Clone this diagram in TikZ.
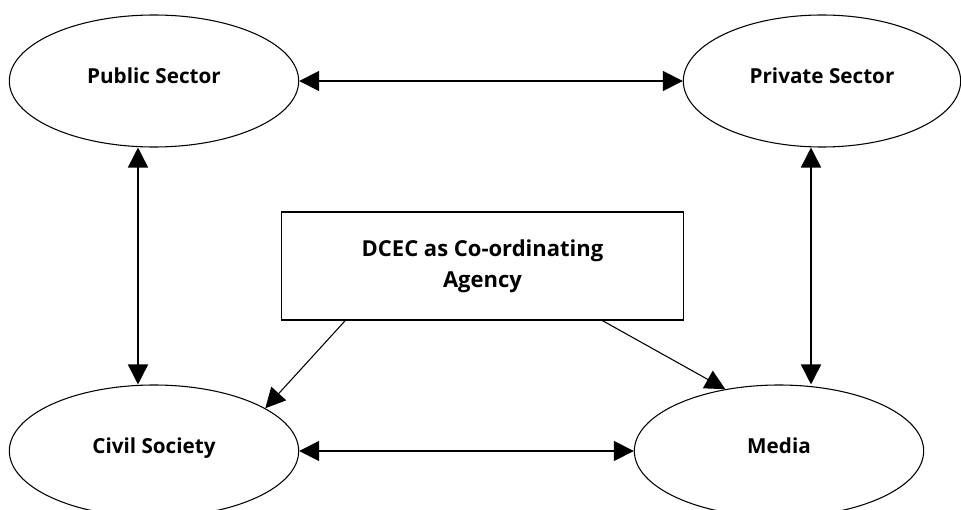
\documentclass[tikz,border=0pt]{standalone}
\usepackage{fontspec}
\setmainfont{Open Sans}
\usepackage{tikz}
\usetikzlibrary{positioning, calc, arrows.meta, shapes}
\tikzset{sector/.style={draw, ellipse, line width=0.8pt, minimum width=217pt, minimum height=99pt, inner sep=0pt, text height=10.5pt, text depth=7pt, font=\bfseries\fontsize{15.5}{18}\selectfont}}
\tikzset{agency/.style={draw, rectangle, line width=0.8pt, minimum width=301pt, minimum height=81pt, align=center, font=\bfseries\fontsize{16.5}{23}\selectfont}}
\tikzset{link/.style={line width=1.2pt, {Triangle[length=15pt,width=15pt]}-{Triangle[length=15pt,width=15pt]}}}
\tikzset{feed/.style={line width=0.8pt, -{Triangle[length=15pt,width=15pt]}}}

\begin{document}
\begin{tikzpicture}[x=0.75pt, y=-0.75pt]

      \useasboundingbox (0,0) rectangle (961,510);

      % SECTORS AND AGENCY

      \node[sector] (pubSec) at (154,81) {Public Sector};
      \node[sector, minimum width=208pt] (prvSec) at (822,81) {Private Sector};
      \node[sector] (civSoc) at (154,451) {Civil Society};
      \node[sector] (media) at (779,451) {Media};
      \node[agency] (dcec) at (482.5,266) {DCEC as Co-ordinating\\Agency};

      % ARC ENDS

      \coordinate (pubFoot) at ($(pubSec.south)+(-16,0)$);
      \coordinate (prvFoot) at ($(prvSec.south)+(-11,0)$);

      % ARCS

      \draw[link] (pubSec.east) -- (prvSec.west);
      \draw[link] (civSoc.east) -- (media.west);
      \draw[link] (pubFoot) -- (pubFoot |- civSoc.north);
      \draw[link] (prvFoot) -- (prvFoot |- media.north);
      \draw[feed] ($(dcec.south west)+(64,0)$) -- (civSoc.21);
      \draw[feed] ($(dcec.south west)+(321,0)$) -- (media.131);

\end{tikzpicture}
\end{document}
